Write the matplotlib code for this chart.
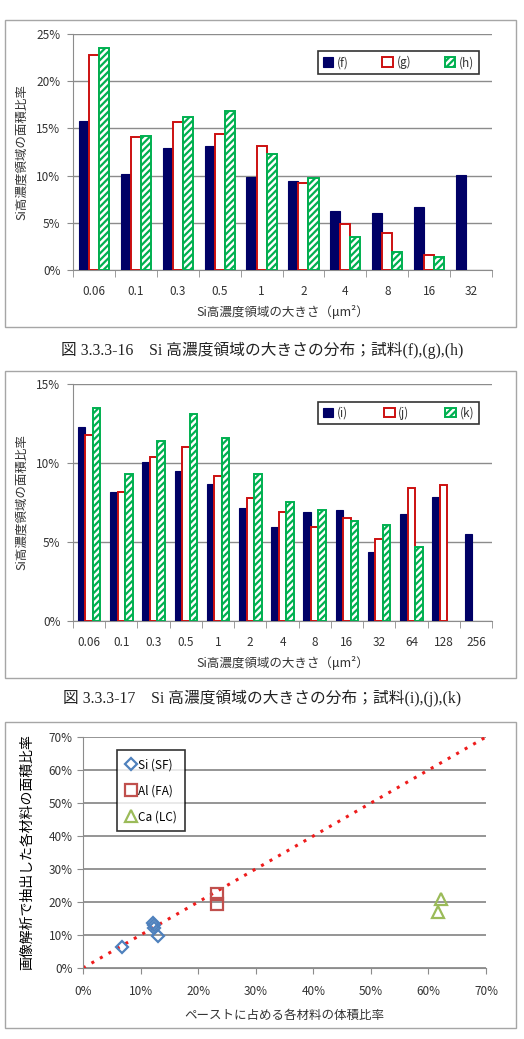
import numpy as np
import matplotlib
matplotlib.use("Agg")
import matplotlib.pyplot as plt
from matplotlib.patches import Rectangle
from matplotlib.ticker import PercentFormatter, FixedLocator, NullFormatter

plt.rcParams['font.family'] = ['Noto Sans CJK JP', 'DejaVu Sans']
plt.rcParams['hatch.linewidth'] = 1.6

# chart 1 data: samples (f),(g),(h)
sizes1 = ['0.06', '0.1', '0.3', '0.5', '1', '2', '4', '8', '16', '32']
f_vals = [15.8, 10.2, 12.9, 13.1, 9.9, 9.4, 6.2, 6.0, 6.7, 10.1]
g_vals = [22.8, 14.1, 15.7, 14.4, 13.1, 9.2, 4.9, 3.95, 1.55, 0]
h_vals = [23.55, 14.2, 16.2, 16.8, 12.3, 9.7, 3.5, 1.9, 1.35, 0]

# chart 2 data: samples (i),(j),(k)
sizes2 = ['0.06', '0.1', '0.3', '0.5', '1', '2', '4', '8', '16', '32', '64', '128', '256']
i_vals = [12.3, 8.15, 10.05, 9.47, 8.66, 7.14, 5.96, 6.9, 7.0, 4.37, 6.78, 7.82, 5.49]
j_vals = [11.8, 8.15, 10.37, 11.03, 9.15, 7.8, 6.89, 5.94, 6.49, 5.22, 8.41, 8.6, 0]
k_vals = [13.46, 9.32, 11.37, 13.12, 11.56, 9.28, 7.56, 7.0, 6.3, 6.1, 4.67, 0, 0]

# chart 3 data: volume ratio vs extracted area ratio (%)
si_x = [6.8, 12.2, 12.3, 12.4, 13.1]
si_y = [6.3, 13.6, 12.9, 12.0, 9.6]
al_x = [23.3, 23.3]
al_y = [22.3, 19.4]
ca_x = [62.2, 61.6]
ca_y = [20.8, 17.1]

navy = '#000066'
red = '#cc1010'
green = '#00b050'
grid_c = '#8c8c8c'
text_c = '#333333'

W, H = 524, 1039
fig = plt.figure(figsize=(W / 100, H / 100), dpi=100)


def fx(px):
    return px / W


def fy(py):
    return 1 - py / H


def frame(top, bottom):
    fig.patches.append(Rectangle((fx(5), fy(bottom)), fx(511), (bottom - top) / H,
                                 transform=fig.transFigure, fill=False,
                                 edgecolor='#a6a6a6', lw=1.0))


def bar_chart(ax, cats, series, labels, ymax, width):
    n = len(cats)
    x = np.arange(n)
    styles = [dict(color=navy, edgecolor=navy, lw=0.8),
              dict(color='white', edgecolor=red, lw=1.4),
              dict(color='white', edgecolor=green, lw=1.4, hatch='/////')]
    for k, (vals, st) in enumerate(zip(series, styles)):
        vals = np.array(vals, dtype=float)
        keep = vals > 0  # empty categories get no bar at all
        ax.bar(x[keep] + (k - 1) * width, vals[keep], width, label=labels[k], zorder=3, **st)
    ax.set_xlim(-0.5, n - 0.5)
    ax.set_ylim(0, ymax)
    ax.yaxis.set_major_locator(FixedLocator(np.arange(0, ymax + 0.1, 5)))
    ax.yaxis.set_major_formatter(PercentFormatter(decimals=0))
    ax.yaxis.grid(True, color=grid_c, lw=1.0)
    ax.set_axisbelow(True)
    ax.set_xticks(x)
    ax.set_xticklabels(cats)
    ax.set_xticks(np.arange(-0.5, n, 1), minor=True)
    ax.xaxis.set_minor_formatter(NullFormatter())
    ax.tick_params(axis='x', which='major', length=0, pad=11, labelsize=8.5, labelcolor=text_c)
    ax.tick_params(axis='x', which='minor', length=5, color=grid_c, direction='out')
    ax.tick_params(axis='y', length=4, color=grid_c, labelsize=8.5, labelcolor=text_c, pad=5)
    for s in ['top', 'right']:
        ax.spines[s].set_visible(False)
    ax.spines['left'].set_color(grid_c)
    ax.spines['bottom'].set_color(grid_c)
    ax.set_xlabel('Si高濃度領域の大きさ（μm²）', fontsize=9, color=text_c, labelpad=5)
    ax.set_ylabel('Si高濃度領域の面積比率', fontsize=9, color=text_c, labelpad=6)
    leg = ax.legend(ncol=3, loc='lower left', bbox_to_anchor=(0.585, 0.83, 0.384, 0.136),
                    mode='expand', frameon=True, fancybox=False, edgecolor='black',
                    fontsize=8.5, handlelength=0.9, handleheight=0.9, handletextpad=0.3,
                    borderaxespad=0, columnspacing=1.0)
    leg.get_frame().set_linewidth(1.2)
    for t in leg.get_texts():
        t.set_color(text_c)


cap_font = ['Liberation Serif', 'Noto Sans CJK JP']

# chart 1
frame(20, 327)
ax1 = fig.add_axes([fx(73), fy(270), fx(419), 236 / H])
bar_chart(ax1, sizes1, [f_vals, g_vals, h_vals], ['(f)', '(g)', '(h)'], 25, 0.24)
fig.text(0.5, fy(350), '図 3.3.3-16　Si 高濃度領域の大きさの分布；試料(f),(g),(h)',
         ha='center', va='center', fontsize=11.3, color='#222222', family=cap_font)

# chart 2
frame(371, 678)
ax2 = fig.add_axes([fx(73), fy(621), fx(419), 237 / H])
bar_chart(ax2, sizes2, [i_vals, j_vals, k_vals], ['(i)', '(j)', '(k)'], 15, 0.233)
fig.text(0.5, fy(698), '図 3.3.3-17　Si 高濃度領域の大きさの分布；試料(i),(j),(k)',
         ha='center', va='center', fontsize=11.3, color='#222222', family=cap_font)

# chart 3
frame(722, 1028)
ax3 = fig.add_axes([fx(83), fy(968), fx(403), 231 / H])
ax3.plot([0, 70], [0, 70], color='#ee1c1c', lw=2.2, linestyle=(0, (1, 2.2)), zorder=2)
ax3.plot(si_x, si_y, linestyle='none', marker='D', markersize=6.5, markerfacecolor='none',
         markeredgecolor='#4f81bd', markeredgewidth=1.6, label='Si (SF)', zorder=3)
ax3.plot(al_x, al_y, linestyle='none', marker='s', markersize=8, markerfacecolor='none',
         markeredgecolor='#c0504d', markeredgewidth=1.6, label='Al (FA)', zorder=3)
ax3.plot(ca_x, ca_y, linestyle='none', marker='^', markersize=8.5, markerfacecolor='none',
         markeredgecolor='#9bbb59', markeredgewidth=1.6, label='Ca (LC)', zorder=3)
ax3.set_xlim(0, 70)
ax3.set_ylim(0, 70)
ax3.set_xticks(np.arange(0, 71, 10))
ax3.set_yticks(np.arange(0, 71, 10))
ax3.xaxis.set_major_formatter(PercentFormatter(decimals=0))
ax3.yaxis.set_major_formatter(PercentFormatter(decimals=0))
ax3.yaxis.grid(True, color=grid_c, lw=1.3)
ax3.set_axisbelow(True)
for s in ['top', 'right']:
    ax3.spines[s].set_visible(False)
ax3.spines['left'].set_color(grid_c)
ax3.spines['bottom'].set_color(grid_c)
ax3.tick_params(axis='both', length=4, color=grid_c, labelsize=8.5, labelcolor=text_c)
ax3.tick_params(axis='x', pad=8)
ax3.set_xlabel('ペーストに占める各材料の体積比率', fontsize=9, color=text_c, labelpad=8)
ax3.set_ylabel('画像解析で抽出した各材料の面積比率', fontsize=10, color='black', labelpad=10)
leg3 = ax3.legend(loc='upper left', bbox_to_anchor=(0.084, 0.944), frameon=True,
                  fancybox=False, edgecolor='black', fontsize=8.5, handletextpad=0.1,
                  handlelength=1.0, labelspacing=1.1, borderpad=0.7, borderaxespad=0)
leg3.get_frame().set_linewidth(1.2)

fig.savefig('out.png', dpi=100)
